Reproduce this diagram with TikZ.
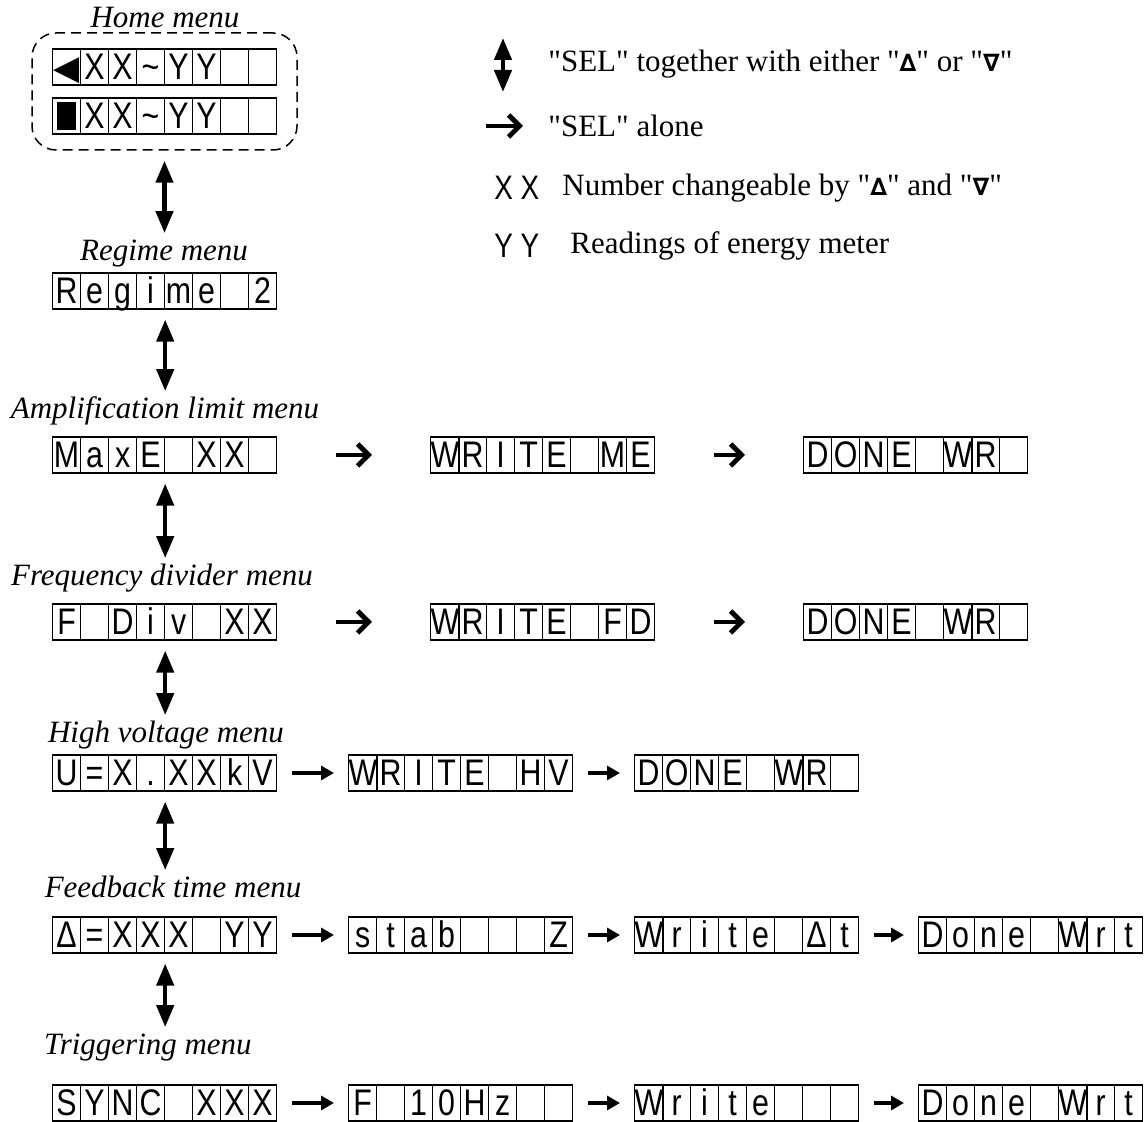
\documentclass[tikz,border=0pt]{standalone}
\usepackage{fontspec}
\setmainfont{Liberation Serif}
\setsansfont{Liberation Sans}
\newfontfamily\lcdfont{Liberation Sans}[FakeStretch=0.82]
\newfontfamily\symfont{DejaVu Sans}
\usetikzlibrary{arrows.meta,calc}

\begin{document}
\begin{tikzpicture}[x=0.5pt,y=-0.5pt,
    cell/.style={draw,line width=0.6pt,anchor=west,inner sep=0pt,
      minimum width=14pt,minimum height=18pt,text height=13pt,text depth=0pt,
      font=\lcdfont\fontsize{18.5}{18.5}\selectfont},
    frame/.style={draw,line width=0.75pt,dash pattern=on 5pt off 3pt,
      rounded corners=12pt,minimum width=132.5pt,minimum height=58.5pt},
    menu/.style={inner sep=0pt,text height=11pt,text depth=3.5pt,
      font=\itshape\fontsize{15.5}{18}\selectfont},
    legend/.style={inner sep=0pt,anchor=west,font=\fontsize{15.5}{18}\selectfont},
    updown/.style={line width=2.2pt,
      {Triangle[length=11pt,width=8.5pt]}-{Triangle[length=11pt,width=8.5pt]}},
    sel/.style={line width=2.4pt,-{Straight Barb[length=5.5pt,width=11pt,line width=2.4pt]}},
    next/.style={line width=1.6pt,-{Triangle[length=6.5pt,width=7pt]}}]
  \newcommand{\cellw}{28}
  \newcommand{\lcd}[3]{\foreach \ch [count=\i] in {#3}
      \node[cell] (#1-\i) at ($(#2)+(\i*\cellw-\cellw,0)$) {\ch};}
  \newcommand{\tri}{{\symfont\bfseries\fontsize{12}{12}\selectfont ∆}}
  \newcommand{\nab}{{\symfont\bfseries\fontsize{12}{12}\selectfont ∇}}
  \newcommand{\qq}{\textquotedbl}
  \useasboundingbox (0,0) rectangle (1148,1122);

  % menus down the left side
  \node[menu] (home-lbl) at (165,20) {Home menu};
  \node[frame] (home) at (164.5,91.5) {};
  \lcd{homea}{52,67}{{\symfont\fontsize{17}{17}\selectfont ◀},X,X,\textasciitilde,Y,Y,{},{}}
  \lcd{homeb}{52,116}{\rule[-0.5pt]{9.5pt}{14pt},X,X,\textasciitilde,Y,Y,{},{}}

  \node[menu] (regime-lbl) at (164,253) {Regime menu};
  \lcd{regime}{52,291}{R,e,g,i,m,e,{},2}

  \node[menu] (amp-lbl) at (165,411) {Amplification limit menu};
  \lcd{maxe}{52,455}{M,a,x,E,{},X,X,{}}
  \lcd{wme}{430,455}{W,R,I,T,E,{},M,E}
  \lcd{dme}{803,455}{D,O,N,E,{},W,R,{}}

  \node[menu] (freq-lbl) at (162,578) {Frequency divider menu};
  \lcd{fdiv}{52,622}{F,{},D,i,v,{},X,X}
  \lcd{wfd}{430,622}{W,R,I,T,E,{},F,D}
  \lcd{dfd}{803,622}{D,O,N,E,{},W,R,{}}

  \node[menu] (hv-lbl) at (166,735) {High voltage menu};
  \lcd{hv}{52,773}{U,=,X,.,X,X,k,V}
  \lcd{whv}{348,773}{W,R,I,T,E,{},H,V}
  \lcd{dhv}{634,773}{D,O,N,E,{},W,R,{}}

  \node[menu] (fb-lbl) at (173,890) {Feedback time menu};
  \lcd{fb}{52,935}{Δ,=,X,X,X,{},Y,Y}
  \lcd{stab}{348,935}{s,t,a,b,{},{},{},Z}
  \lcd{wdt}{634,935}{W,r,i,t,e,{},Δ,t}
  \lcd{dfb}{918,935}{D,o,n,e,{},W,r,t}

  \node[menu] (trig-lbl) at (148,1047) {Triggering menu};
  \lcd{trig}{52,1103}{S,Y,N,C,{},X,X,X}
  \lcd{frq}{348,1103}{F,{},1,0,H,z,{},{}}
  \lcd{wtr}{634,1103}{W,r,i,t,e,{},{},{}}
  \lcd{dtr}{918,1103}{D,o,n,e,{},W,r,t}

  \foreach \a/\b in {home.south/regime-lbl,regime-4.south east/amp-lbl,
      maxe-4.south east/freq-lbl,fdiv-4.south east/hv-lbl,
      hv-4.south east/fb-lbl,fb-4.south east/trig-lbl}
    \draw[updown,shorten <=5pt,shorten >=2.5pt] (\a) -- (\a |- \b.north);

  \foreach \a/\b in {maxe-8/wme-1,wme-8/dme-1,fdiv-8/wfd-1,wfd-8/dfd-1}
    \draw[sel,shorten <=29.5pt,shorten >=29pt] (\a.east) -- (\b.west);

  \foreach \a/\b in {hv-8/whv-1,whv-8/dhv-1,fb-8/stab-1,stab-8/wdt-1,
      wdt-8/dfb-1,trig-8/frq-1,frq-8/wtr-1,wtr-8/dtr-1}
    \draw[next,shorten <=7.5pt,shorten >=7pt] (\a.east) -- (\b.west);

  % legend
  \coordinate (leg-ud-top) at (503,38);
  \coordinate (leg-ud-bot) at (503,92);
  \draw[updown] (leg-ud-top) -- (leg-ud-bot);
  \node[legend] (leg-ud) at (548,64) {\qq SEL\qq{} together with either \qq\tri\qq{} or \qq\nab\qq};
  \coordinate (leg-sel-a) at (486,126);
  \coordinate (leg-sel-b) at (523,126);
  \draw[sel] (leg-sel-a) -- (leg-sel-b);
  \node[legend] (leg-sel) at (548,126) {\qq SEL\qq{} alone};
  \node[legend,font=\lcdfont\fontsize{17}{17}\selectfont] (leg-x) at (494,188) {X X};
  \node[legend] (leg-xtxt) at (562,188) {Number changeable by \qq\tri\qq{} and \qq\nab\qq};
  \node[legend,font=\lcdfont\fontsize{17}{17}\selectfont] (leg-y) at (494,246) {Y Y};
  \node[legend] (leg-ytxt) at (570,246) {Readings of energy meter};
\end{tikzpicture}
\end{document}
